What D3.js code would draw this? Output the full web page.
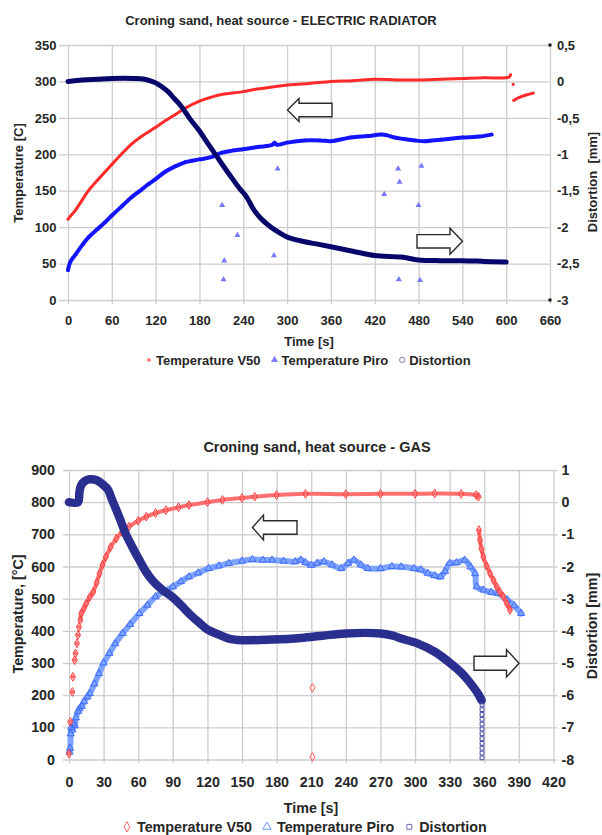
<!DOCTYPE html>
<html><head><meta charset="utf-8">
<script src="https://cdn.jsdelivr.net/npm/d3@7"></script>
<style>
body{margin:0;background:#fff}
svg{display:block}
text{font-family:"Liberation Sans",Arial,sans-serif;font-weight:bold;fill:#262626}
</style>
</head><body>
<svg id="c" width="602" height="835"></svg>
<script>
// ---------------- DATA ----------------
const topTitle = "Croning sand, heat source - ELECTRIC RADIATOR";
const topXTicks = [0,60,120,180,240,300,360,420,480,540,600,660];
const topYTicks = [0,50,100,150,200,250,300,350];
const topY2Ticks = [-3,-2.5,-2,-1.5,-1,-0.5,0,0.5];
const topLegend = ["Temperature V50","Temperature Piro","Distortion"];

// [time s, temperature C]
const topV50 = [[0,111],[5,117],[10,123],[20,138],[28,150],[40,164],[50,175],[60,186],[74,201],[87,214],[100,224],[120,237],[133,246],[146,254],[160,263],[180,273],[195,278],[210,282],[225,284],[240,286],[255,289],[270,291],[285,293],[300,295],[330,297],[360,300],[390,301],[420,303],[450,302],[480,302],[510,303],[540,304],[570,305],[600,305],[604,306],[606,309],null,[609.5,296],null,[610.5,274],[618,278],[626,281],[637,284]];
const topPiro = [[0,41],[3,52],[10,62],[20,76],[28,86],[40,97],[50,106],[60,116],[74,129],[87,141],[100,151],[110,159],[120,166],[133,176],[146,183],[160,189],[180,193],[196,196],[210,202],[225,205],[240,207],[260,210],[280,213],[283,216],[286,213],[300,216],[324,219],[345,219],[360,218],[387,223],[410,225],[429,227],[437,226],[447,223],[460,221],[475,219],[489,218],[510,220],[540,223],[560,224],[580,227]];
const topPiroScatter = [[211,130],[232,89],[214,54],[213,28],[287,180],[282,61],[433,145],[452,180],[454,162],[453,28],[480,130],[484,184],[482,27]];
// [time s, distortion mm]
const topDist = [[0,0],[20,0.02],[40,0.03],[60,0.04],[90,0.04],[105,0.03],[115,0.0],[120,-0.02],[128,-0.07],[137,-0.14],[145,-0.23],[155,-0.34],[166,-0.5],[180,-0.68],[190,-0.83],[201,-0.99],[212,-1.15],[224,-1.32],[235,-1.47],[242,-1.55],[246,-1.61],[255,-1.77],[266,-1.9],[278,-2.0],[290,-2.08],[301,-2.14],[324,-2.2],[340,-2.23],[360,-2.27],[390,-2.33],[420,-2.39],[456,-2.41],[480,-2.45],[510,-2.46],[540,-2.46],[570,-2.47],[600,-2.48]];

const botTitle = "Croning sand, heat source - GAS";
const botXTicks = [0,30,60,90,120,150,180,210,240,270,300,330,360,390,420];
const botYTicks = [0,100,200,300,400,500,600,700,800,900];
const botY2Ticks = [-8,-7,-6,-5,-4,-3,-2,-1,0,1];
const botLegend = ["Temperature V50","Temperature Piro","Distortion"];

const botV50 = [[0,18],null,[1.1,117],null,[2.9,210],null,[3.4,257],null,[4.9,309],null,[5.7,330],null,[6.9,361],null,[7.8,387],null,[8.6,412],null,[9.8,433],[10.6,454],[13,470],[15,485],[18,505],[21,521],[24,550],[26.4,578],[29,605],[32,630],[36,660],[41,687],[46,707],[52,724],[60,742],[67,755],[75,766],[84,775],[95,784],[104,791],[120,800],[133,807],[150,813],[161,817],[180,822],[205,826],[240,825],[270,826],[300,826],[317,827],[340,826],[353,822],[355,817],null,[355.4,713],[356.3,682],[357.5,655],[359.2,630],[362,602],[365,578],[368,557],[370.8,537],[373.5,521],[376.5,506],[379.5,485],[382.3,465]];
const botV50Scatter = [[211,223],[211,8]];
const botPiro = [[0.5,23],[1,35],[1.5,80],[2,100],[3,92],[4,111],[5,105],[6,130],[8,150],[9,158],[11,165],[13,180],[16,195],[18,205],[22,235],[26,267],[30,300],[35,330],[40,360],[46.5,392],[53,420],[61,454],[68,480],[75,506],[82,522],[90,537],[97,553],[104,568],[112,580],[121,594],[130,602],[138.5,610],[150,617],[159,622],[168,620],[176,620],[186,617],[196,615],[201,620],[205,612],[210,604],[215,610],[221,615],[228,605],[236,594],[242,610],[247,620],[253,605],[259,594],[270,594],[280,600],[288,599],[299,594],[305,590],[311,579],[317,572],[322,568],[326,585],[330,610],[336,612],[343,620],[348,599],[352,578],[353.4,537],[359.2,527],[366,520],[372,516],[380,496],[386,478],[392,454]];
const botDist = [[0,0],[7.8,0],[9,0.3],[10.6,0.53],[14,0.66],[18,0.71],[24,0.68],[29,0.56],[34,0.38],[37,0.1],[41,-0.24],[45,-0.6],[49,-0.97],[55,-1.4],[61,-1.8],[66,-2.12],[72,-2.42],[80,-2.7],[90,-2.96],[97,-3.2],[104,-3.46],[112,-3.72],[121,-3.98],[130,-4.12],[138.5,-4.24],[150,-4.29],[176,-4.27],[201,-4.22],[220,-4.15],[240,-4.08],[270,-4.08],[280,-4.14],[288,-4.24],[302,-4.39],[317,-4.65],[331,-5.02],[340,-5.3],[346,-5.54],[352,-5.82],[355,-5.98],[357.7,-6.16]];
const botDistDrop = [[358,-6.3],[358,-6.45],[358,-6.6],[358,-6.75],[358,-6.9],[358,-7.05],[358,-7.2],[358,-7.35],[358,-7.5],[358,-7.65],[358,-7.8],[358,-7.95]];

// ---------------- DRAWING ----------------
const svg = d3.select("#c");
const gridColor = "#cdcdcd";
const commaFmt = d => String(d).replace(".", ",");
const plainFmt = d => String(d);

function arrowPath(dir, tipX, cy, headLen, bodyLen, hh, bh) {
  const s = dir; // -1 left, +1 right
  const hb = tipX - s * headLen, be = hb - s * bodyLen;
  return `M${tipX},${cy} L${hb},${cy-hh} L${hb},${cy-bh} L${be},${cy-bh} L${be},${cy+bh} L${hb},${cy+bh} L${hb},${cy+hh} Z`;
}

function drawChart(o) {
  const W = o.right - o.left, H = o.bottom - o.top;
  const x = d3.scaleLinear().domain(o.xDomain).range([o.left, o.right]);
  const y = d3.scaleLinear().domain(o.yDomain).range([o.bottom, o.top]);
  const y2 = d3.scaleLinear().domain(o.y2Domain).range([o.bottom, o.top]);
  const g = svg.append("g");
  const fs = o.fontSize + "px";

  const gx = g.append("g").attr("transform", `translate(0,${o.bottom})`)
    .call(d3.axisBottom(x).tickValues(o.xTicks).tickSize(-H).tickPadding(o.xPad).tickFormat(plainFmt));
  gx.select(".domain").remove();
  gx.selectAll(".tick line").attr("y1", o.xExt).attr("stroke", gridColor).attr("stroke-width", 1.3);
  gx.selectAll(".tick text").style("font-size", fs);

  const gy = g.append("g").attr("transform", `translate(${o.left},0)`)
    .call(d3.axisLeft(y).tickValues(o.yTicks).tickSize(-W).tickPadding(o.yExt + o.yPad).tickFormat(plainFmt));
  gy.select(".domain").remove();
  gy.selectAll(".tick line").attr("x1", -o.yExt).attr("stroke", gridColor).attr("stroke-width", 1.3);
  gy.selectAll(".tick text").style("font-size", fs);

  const gy2 = g.append("g").attr("transform", `translate(${o.right},0)`)
    .call(d3.axisRight(y2).tickValues(o.y2Ticks).tickSize(o.y2Tick).tickPadding(o.y2Pad).tickFormat(o.y2Format));
  gy2.select(".domain").remove();
  gy2.selectAll(".tick line").attr("stroke", gridColor).attr("stroke-width", 1.3);
  gy2.selectAll(".tick text").style("font-size", fs);
  if (o.cornerMarks) {
    o.y2Domain.forEach(v => g.append("rect").attr("x", o.right - 1.5).attr("y", y2(v) - 1.5)
      .attr("width", 3).attr("height", 3).attr("fill", "#111"));
  }

  // titles
  g.append("text").attr("x", o.titleX).attr("y", o.titleY).attr("text-anchor", "middle")
    .style("font-size", o.titleSize + "px").text(o.title);
  g.append("text").attr("x", o.xTitleX).attr("y", o.xTitleY).attr("text-anchor", "middle")
    .style("font-size", fs).text("Time [s]");
  g.append("text").attr("transform", `translate(${o.yTitleX},${o.yTitleY}) rotate(-90)`)
    .attr("text-anchor", "middle").style("font-size", fs).text(o.yTitle);
  g.append("text").attr("transform", `translate(${o.y2TitleX},${o.y2TitleY}) rotate(-90)`)
    .attr("text-anchor", "middle").style("font-size", fs).style("white-space", "pre").text(o.y2Title);

  // series
  o.series.forEach(s => {
    const ys = s.axis === 2 ? y2 : y;
    if (s.line) {
      g.append("path").datum(s.data)
        .attr("d", d3.line().defined(d => d !== null).x(d => x(d[0])).y(d => ys(d[1])).curve(d3.curveCatmullRom.alpha(0.5)))
        .attr("fill", "none").attr("stroke", s.line.color).attr("stroke-width", s.line.width)
        .attr("stroke-linecap", "round").attr("stroke-linejoin", "round").attr("opacity", s.line.opacity || 1);
    }
    if (s.marker) {
      g.append("g").selectAll("path").data(s.data.filter(d => d !== null)).join("path")
        .attr("transform", d => `translate(${x(d[0])},${ys(d[1])})`)
        .attr("d", d3.symbol(s.marker.type, s.marker.size))
        .attr("fill", s.marker.fill || "none").attr("stroke", s.marker.stroke || "none")
        .attr("stroke-width", s.marker.sw || 1);
    }
  });

  // arrows
  o.arrows.forEach(a => {
    g.append("path").attr("d", arrowPath(a.dir, a.tip, a.cy, a.head, a.body, a.hh, a.bh))
      .attr("fill", "#fff").attr("stroke", "#2a2a2a").attr("stroke-width", 1.4).attr("stroke-linejoin", "miter");
  });

  // legend
  let cur = o.legendX;
  o.legend.forEach((label, i) => {
    const m = o.legendMarkers[i];
    g.append("path").attr("transform", `translate(${cur + 4},${o.legendY - o.fontSize * 0.36})`)
      .attr("d", d3.symbol(m.type, m.size)).attr("fill", m.fill || "none")
      .attr("stroke", m.stroke || "none").attr("stroke-width", 1);
    const t = g.append("text").attr("x", cur + o.legendGap1).attr("y", o.legendY)
      .style("font-size", fs).text(label);
    cur = cur + o.legendGap1 + t.node().getComputedTextLength() + o.legendGap2;
  });
}

drawChart({
  left: 68, right: 550, top: 45, bottom: 300,
  xDomain: [0, 660], yDomain: [0, 350], y2Domain: [-3, 0.5],
  xTicks: topXTicks, yTicks: topYTicks, y2Ticks: topY2Ticks, y2Format: commaFmt,
  fontSize: 13, xPad: 15.4, xExt: 4, yExt: 9, yPad: 2.5, y2Tick: 0, y2Pad: 7, cornerMarks: true,
  title: topTitle, titleX: 281, titleY: 24.5, titleSize: 13,
  xTitleX: 309, xTitleY: 345.5,
  yTitle: "Temperature [C]", yTitleX: 22.5, yTitleY: 173,
  y2Title: "Distortion  [mm]", y2TitleX: 596.5, y2TitleY: 182,
  series: [
    { data: topV50, line: { color: "#ff2b2b", width: 3 }, marker: { type: d3.symbolCircle, size: 5, fill: "#ff2b2b" } },
    { data: topPiro, line: { color: "#1414ff", width: 4 }, marker: { type: d3.symbolTriangle, size: 8, fill: "#1414ff" } },
    { data: topPiroScatter, marker: { type: d3.symbolTriangle, size: 16, fill: "#7878ff" } },
    { data: topDist, axis: 2, line: { color: "#07076b", width: 5 } }
  ],
  arrows: [
    { dir: -1, tip: 287.5, cy: 110, head: 11.5, body: 33, hh: 11.5, bh: 6.7 },
    { dir: 1, tip: 462.5, cy: 241.3, head: 12.5, body: 33, hh: 13, bh: 6.7 }
  ],
  legend: topLegend, legendX: 145, legendY: 364.6, legendGap1: 11, legendGap2: 10,
  legendMarkers: [
    { type: d3.symbolCircle, size: 12, fill: "#ff7a7a" },
    { type: d3.symbolTriangle, size: 22, fill: "#8080ff" },
    { type: d3.symbolCircle, size: 22, stroke: "#7a7ab8" }
  ]
});

drawChart({
  left: 69, right: 553.5, top: 470, bottom: 759.5,
  xDomain: [0, 420], yDomain: [0, 900], y2Domain: [-8, 1],
  xTicks: botXTicks, yTicks: botYTicks, y2Ticks: botY2Ticks, y2Format: plainFmt,
  fontSize: 14.3, xPad: 17, xExt: 4, yExt: 6, yPad: 8, y2Tick: 4, y2Pad: 4, cornerMarks: false,
  title: botTitle, titleX: 317, titleY: 452, titleSize: 14.5,
  xTitleX: 311, xTitleY: 813,
  yTitle: "Temperature, [°C]", yTitleX: 23, yTitleY: 614,
  y2Title: "Distortion [mm]", y2TitleX: 597, y2TitleY: 626,
  series: [
    { data: botPiro, line: { color: "#7ea2ff", width: 6 }, marker: { type: d3.symbolTriangle, size: 22, stroke: "#3d6cff" } },
    { data: botV50, line: { color: "#ff7070", width: 4 }, marker: { type: d3.symbolDiamond, size: 22, stroke: "#ff3c3c" } },
    { data: botV50Scatter, marker: { type: d3.symbolDiamond, size: 22, stroke: "#ff5a5a" } },
    { data: botDist, axis: 2, line: { color: "#2a2f8f", width: 8.5 } },
    { data: botDistDrop, axis: 2, marker: { type: d3.symbolSquare, size: 14, stroke: "#4a4aa8" } }
  ],
  arrows: [
    { dir: -1, tip: 252.5, cy: 527.5, head: 11, body: 33.5, hh: 12.5, bh: 6.7 },
    { dir: 1, tip: 519, cy: 663.3, head: 12.5, body: 32.5, hh: 13.7, bh: 7 }
  ],
  legend: botLegend, legendX: 123, legendY: 832, legendGap1: 14, legendGap2: 11,
  legendMarkers: [
    { type: d3.symbolDiamond, size: 30, stroke: "#ff6060" },
    { type: d3.symbolTriangle, size: 30, stroke: "#6a90ff" },
    { type: d3.symbolSquare, size: 24, stroke: "#6d6db5" }
  ]
});
</script>
</body></html>
